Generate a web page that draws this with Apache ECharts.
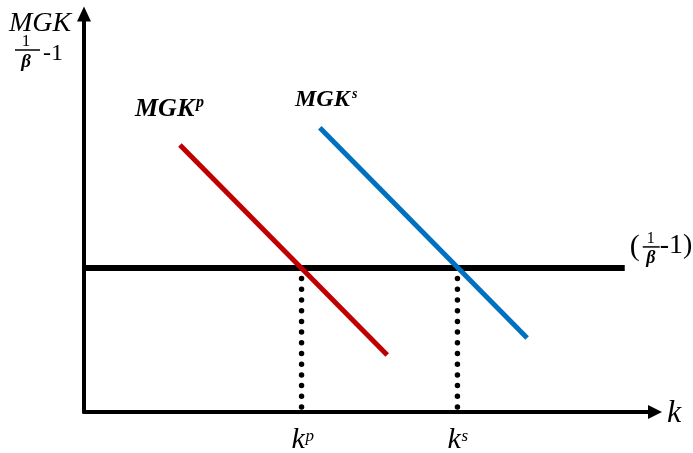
<!DOCTYPE html>
<html>
<head>
<meta charset="utf-8">
<script src="https://cdn.jsdelivr.net/npm/echarts@6/dist/echarts.min.js"></script>
<style>
  html, body { margin: 0; padding: 0; background: #fff; }
  #main { width: 693px; height: 453px; }
</style>
</head>
<body>
<div id="main"></div>
<script>
// values (axis units 0..100)
const rateLevel = 36.2;            // 1/beta - 1
const rateLineX = [0, 94.7];
const privX = [16.8, 53.1];        // MGK^p
const privY = [67.1, 14.3];
const socX = [41.3, 77.6];         // MGK^s
const socY = [71.4, 18.6];
const kNames = ['p', 's'];
const kLevels = [38.1, 65.4];      // k^p, k^s

const serif = '"Liberation Serif", "DejaVu Serif", serif';

var chart = echarts.init(document.getElementById('main'), null, { renderer: 'canvas' });

function pairs(xs, ys) {
  return xs.map(function (x, i) { return [x, ys[i]]; });
}

var dotted = kLevels.map(function (k) {
  return {
    type: 'line',
    data: [[k, rateLevel], [k, 0]],
    symbol: 'none',
    lineStyle: { color: '#000', width: 5.5, type: [0, 10.7], cap: 'round' },
    z: 1
  };
});

chart.setOption({
  animation: false,
  backgroundColor: '#ffffff',
  grid: { left: 84, right: 38, top: 14, bottom: 41 },
  xAxis: {
    type: 'value', min: 0, max: 100,
    splitLine: { show: false }, axisTick: { show: false }, axisLabel: { show: false },
    axisLine: {
      show: true, onZero: false,
      symbol: ['none', 'triangle'], symbolSize: [14, 14],
      lineStyle: { color: '#000', width: 4 }
    }
  },
  yAxis: {
    type: 'value', min: 0, max: 100,
    splitLine: { show: false }, axisTick: { show: false }, axisLabel: { show: false },
    axisLine: {
      show: true, onZero: false,
      symbol: ['none', 'triangle'], symbolSize: [14, 15],
      lineStyle: { color: '#000', width: 4 }
    }
  },
  series: [
    {
      type: 'line',
      data: rateLineX.map(function (x) { return [x, rateLevel]; }),
      symbol: 'none',
      lineStyle: { color: '#000', width: 6 },
      z: 2
    },
    {
      type: 'line', data: pairs(privX, privY), symbol: 'none',
      lineStyle: { color: '#C00000', width: 5 }, z: 3
    },
    {
      type: 'line', data: pairs(socX, socY), symbol: 'none',
      lineStyle: { color: '#0070C0', width: 5 }, z: 3
    }
  ].concat(dotted)
});

// text labels
function txt(s, x, y, font, align) {
  return {
    type: 'text', x: x, y: y, silent: true,
    style: {
      text: s, font: font, fill: '#000',
      textAlign: align || 'left', align: align || 'left',
      textVerticalAlign: 'middle', verticalAlign: 'middle'
    }
  };
}
function bar(x1, x2, y) {
  return {
    type: 'line', silent: true,
    shape: { x1: x1, y1: y, x2: x2, y2: y },
    style: { stroke: '#000', lineWidth: 1.5 }
  };
}

var g = [];
// y axis title
g.push(txt('MGK', 9, 24, 'italic 28px ' + serif));
g.push(txt('1', 26, 42, '17px ' + serif, 'center'));
g.push(bar(15, 40, 50));
g.push(txt('β', 26, 62, 'italic bold 19px ' + serif, 'center'));
g.push(txt('-1', 43, 54, '24px ' + serif));

// right label (1/beta - 1)
var rp = chart.convertToPixel({ gridIndex: 0 }, [rateLineX[1], rateLevel]);
g.push(txt('(', rp[0] + 5, rp[1] - 21, '30px ' + serif));
g.push(txt('1', rp[0] + 26, rp[1] - 29, '16px ' + serif, 'center'));
g.push(bar(rp[0] + 18, rp[0] + 35, rp[1] - 21));
g.push(txt('β', rp[0] + 26, rp[1] - 10, 'italic bold 18px ' + serif, 'center'));
g.push(txt('-1)', rp[0] + 35, rp[1] - 22, '28px ' + serif));

// curve names
g.push(txt('MGK', 135, 109, 'italic bold 26px ' + serif));
g.push(txt('p', 196, 103, 'italic bold 16px ' + serif));
g.push(txt('MGK', 295, 100, 'italic bold 24px ' + serif));
g.push(txt('s', 352, 94, 'italic bold 14px ' + serif));

// x axis name
g.push(txt('k', 667, 414, 'italic 32px ' + serif));

// k^p, k^s under the dotted lines
kLevels.forEach(function (k, i) {
  var p = chart.convertToPixel({ gridIndex: 0 }, [k, 0]);
  g.push(txt('k', p[0] - 10, 440, 'italic 30px ' + serif));
  g.push(txt(kNames[i], p[0] + 4, 437, 'italic 17px ' + serif));
});

chart.setOption({ graphic: { elements: g } });
</script>
</body>
</html>
